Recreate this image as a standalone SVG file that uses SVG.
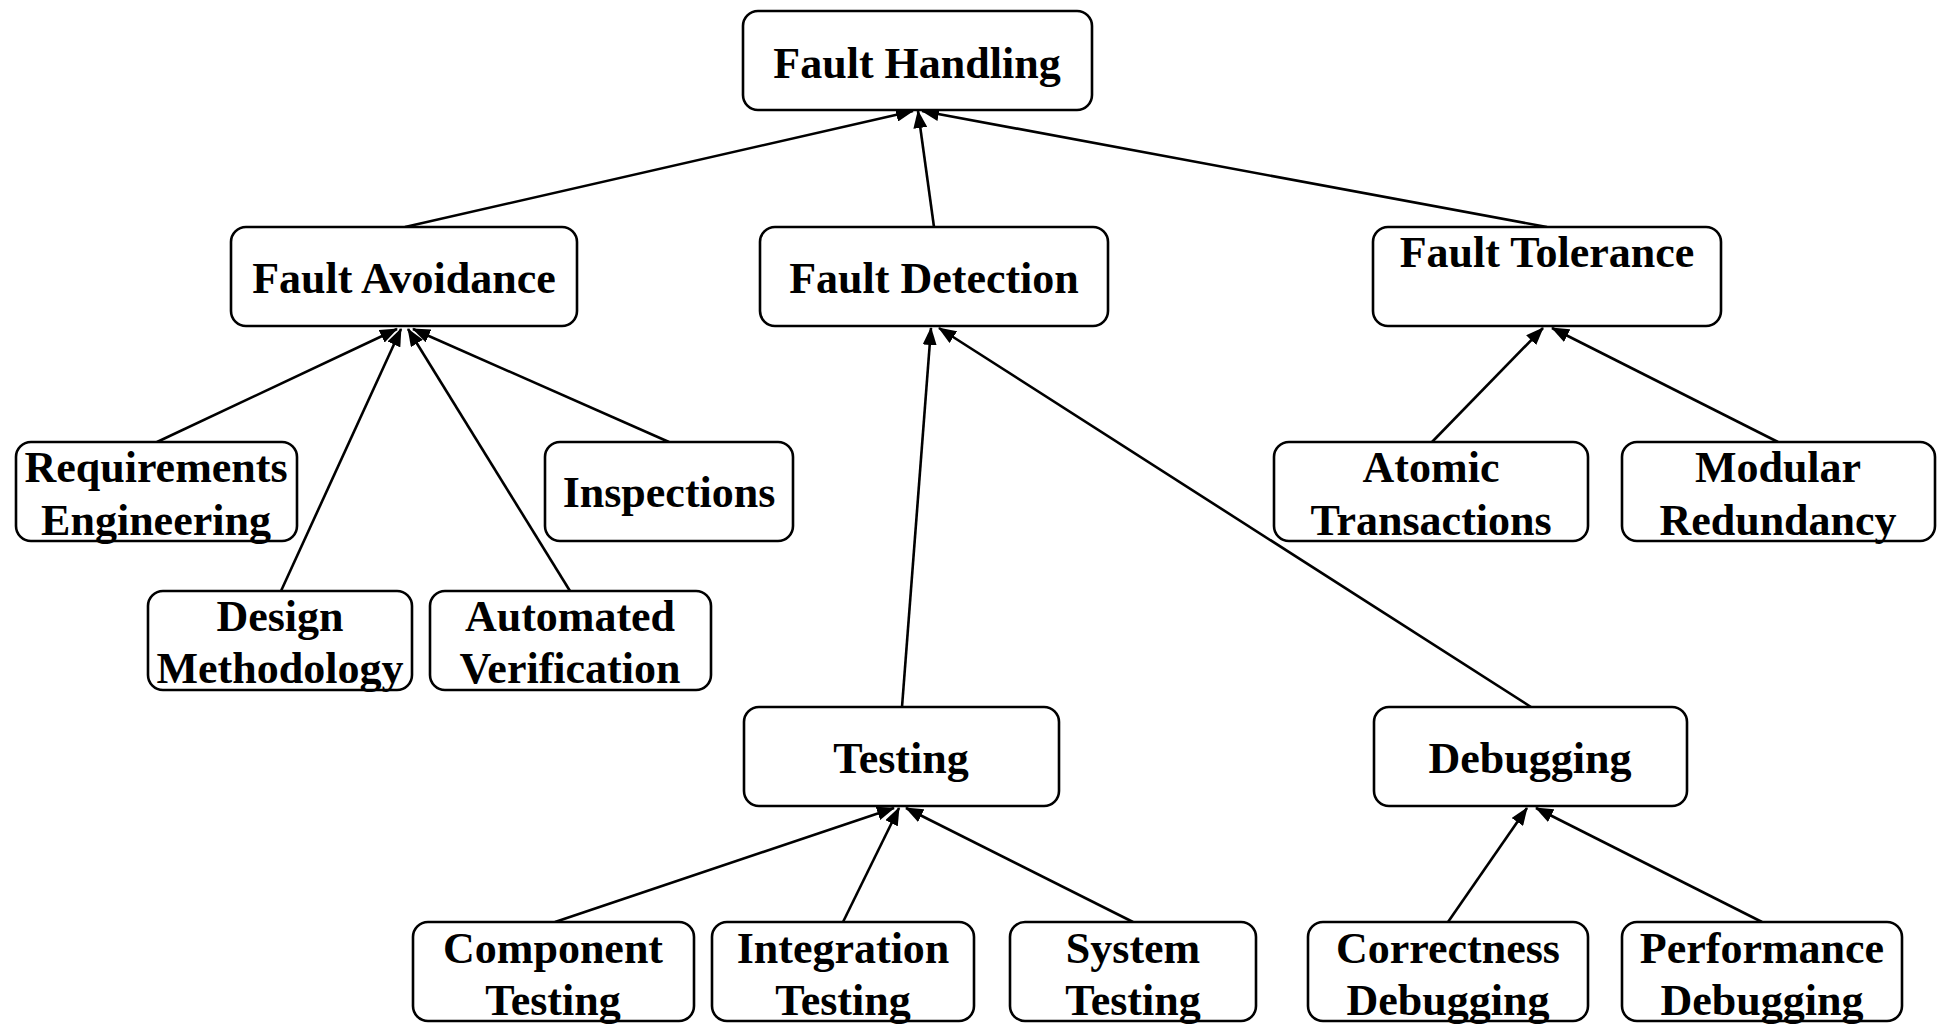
<svg xmlns="http://www.w3.org/2000/svg" width="1939" height="1024" viewBox="0 0 1939 1024">
<style>
.box{fill:#fff;stroke:#000;stroke-width:2.6}
.lbl{font-family:"Liberation Serif","Times New Roman",serif;font-weight:bold;font-size:44px;text-anchor:middle;fill:#000}
.edge{stroke:#000;stroke-width:2.6;fill:none;marker-end:url(#arr)}
</style>
<defs>
<marker id="arr" markerUnits="userSpaceOnUse" markerWidth="18" markerHeight="14" refX="17" refY="7" orient="auto">
<path d="M0,0 L18,7 L0,14 z" fill="#000"/>
</marker>
</defs>
<rect width="1939" height="1024" fill="#fff"/>
<g id="connectors">
<line class="edge" x1="405" y1="227" x2="913" y2="111"/>
<line class="edge" x1="934" y1="227" x2="918" y2="111"/>
<line class="edge" x1="1547" y1="227" x2="922" y2="111"/>
<line class="edge" x1="157" y1="442" x2="397" y2="329"/>
<line class="edge" x1="281" y1="591" x2="401" y2="329"/>
<line class="edge" x1="570" y1="591" x2="408" y2="329"/>
<line class="edge" x1="669" y1="442" x2="413" y2="329"/>
<line class="edge" x1="902" y1="707" x2="931" y2="328"/>
<line class="edge" x1="1531" y1="707" x2="939" y2="328"/>
<line class="edge" x1="1432" y1="442" x2="1543" y2="328"/>
<line class="edge" x1="1778" y1="442" x2="1552" y2="328"/>
<line class="edge" x1="555" y1="922" x2="894" y2="808"/>
<line class="edge" x1="843" y1="922" x2="899" y2="808"/>
<line class="edge" x1="1133" y1="922" x2="906" y2="808"/>
<line class="edge" x1="1448" y1="922" x2="1527" y2="808"/>
<line class="edge" x1="1762" y1="922" x2="1536" y2="808"/>
</g>
<g id="fault-handling"><rect class="box" x="743" y="11" width="349" height="99" rx="15"/><text class="lbl" x="917" y="78">Fault Handling</text></g>
<g id="fault-avoidance"><rect class="box" x="231" y="227" width="346" height="99" rx="15"/><text class="lbl" x="404" y="293">Fault Avoidance</text></g>
<g id="fault-detection"><rect class="box" x="760" y="227" width="348" height="99" rx="15"/><text class="lbl" x="934" y="293">Fault Detection</text></g>
<g id="fault-tolerance"><rect class="box" x="1373" y="227" width="348" height="99" rx="15"/><text class="lbl" x="1547" y="267">Fault Tolerance</text></g>
<g id="requirements-engineering"><rect class="box" x="16" y="442" width="281" height="99" rx="15"/><text class="lbl" x="156" y="482">Requirements</text><text class="lbl" x="156" y="535">Engineering</text></g>
<g id="inspections"><rect class="box" x="545" y="442" width="248" height="99" rx="15"/><text class="lbl" x="669" y="507">Inspections</text></g>
<g id="design-methodology"><rect class="box" x="148" y="591" width="264" height="99" rx="15"/><text class="lbl" x="280" y="631">Design</text><text class="lbl" x="280" y="683">Methodology</text></g>
<g id="automated-verification"><rect class="box" x="430" y="591" width="281" height="99" rx="15"/><text class="lbl" x="570" y="631">Automated</text><text class="lbl" x="570" y="683">Verification</text></g>
<g id="atomic-transactions"><rect class="box" x="1274" y="442" width="314" height="99" rx="15"/><text class="lbl" x="1431" y="482">Atomic</text><text class="lbl" x="1431" y="535">Transactions</text></g>
<g id="modular-redundancy"><rect class="box" x="1622" y="442" width="313" height="99" rx="15"/><text class="lbl" x="1778" y="482">Modular</text><text class="lbl" x="1778" y="535">Redundancy</text></g>
<g id="testing"><rect class="box" x="744" y="707" width="315" height="99" rx="15"/><text class="lbl" x="901" y="773">Testing</text></g>
<g id="debugging"><rect class="box" x="1374" y="707" width="313" height="99" rx="15"/><text class="lbl" x="1530" y="773">Debugging</text></g>
<g id="component-testing"><rect class="box" x="413" y="922" width="281" height="99" rx="15"/><text class="lbl" x="553" y="963">Component</text><text class="lbl" x="553" y="1015">Testing</text></g>
<g id="integration-testing"><rect class="box" x="712" y="922" width="262" height="99" rx="15"/><text class="lbl" x="843" y="963">Integration</text><text class="lbl" x="843" y="1015">Testing</text></g>
<g id="system-testing"><rect class="box" x="1010" y="922" width="246" height="99" rx="15"/><text class="lbl" x="1133" y="963">System</text><text class="lbl" x="1133" y="1015">Testing</text></g>
<g id="correctness-debugging"><rect class="box" x="1308" y="922" width="280" height="99" rx="15"/><text class="lbl" x="1448" y="963">Correctness</text><text class="lbl" x="1448" y="1015">Debugging</text></g>
<g id="performance-debugging"><rect class="box" x="1622" y="922" width="280" height="99" rx="15"/><text class="lbl" x="1762" y="963">Performance</text><text class="lbl" x="1762" y="1015">Debugging</text></g>
</svg>
